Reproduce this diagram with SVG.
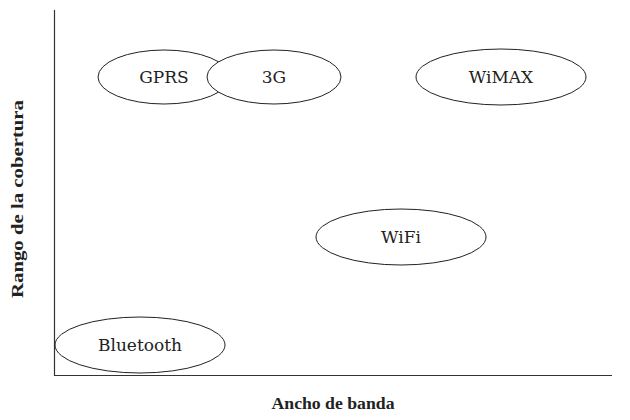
<svg xmlns="http://www.w3.org/2000/svg" width="630" height="420" viewBox="0 0 630 420">
<style>
.n ellipse{fill:none;stroke:#222;stroke-width:1}
.n text{font-family:"DejaVu Serif","Liberation Serif",serif;font-size:17px;fill:#222;text-anchor:middle;dominant-baseline:central}
.ax{stroke:#333;stroke-width:1.2;fill:none}
.lbl{font-family:"Liberation Serif","DejaVu Serif",serif;font-size:17px;font-weight:bold;fill:#222;text-anchor:middle}
</style>
<rect width="630" height="420" fill="#fff"/>
<g id="axes">
<path class="ax" d="M54.5,10 V375.5 H612"/>
<text class="lbl" x="333" y="409" textLength="123" lengthAdjust="spacingAndGlyphs">Ancho de banda</text>
<text class="lbl" transform="translate(23,199) rotate(-90)" textLength="198" lengthAdjust="spacingAndGlyphs">Rango de la cobertura</text>
</g>
<g id="gprs" class="n"><ellipse cx="164" cy="77" rx="66" ry="27"/><text x="164" y="77">GPRS</text></g>
<g id="g3" class="n"><ellipse cx="274" cy="77" rx="67" ry="27" style="fill:#fff"/><text x="274" y="77">3G</text></g>
<g id="wimax" class="n"><ellipse cx="501" cy="77" rx="85" ry="28"/><text x="501" y="77">WiMAX</text></g>
<g id="wifi" class="n"><ellipse cx="401" cy="237" rx="85" ry="28"/><text x="401" y="237">WiFi</text></g>
<g id="bluetooth" class="n"><ellipse cx="140" cy="345" rx="85" ry="28"/><text x="140" y="345">Bluetooth</text></g>
<g id="connectors"></g>
</svg>
